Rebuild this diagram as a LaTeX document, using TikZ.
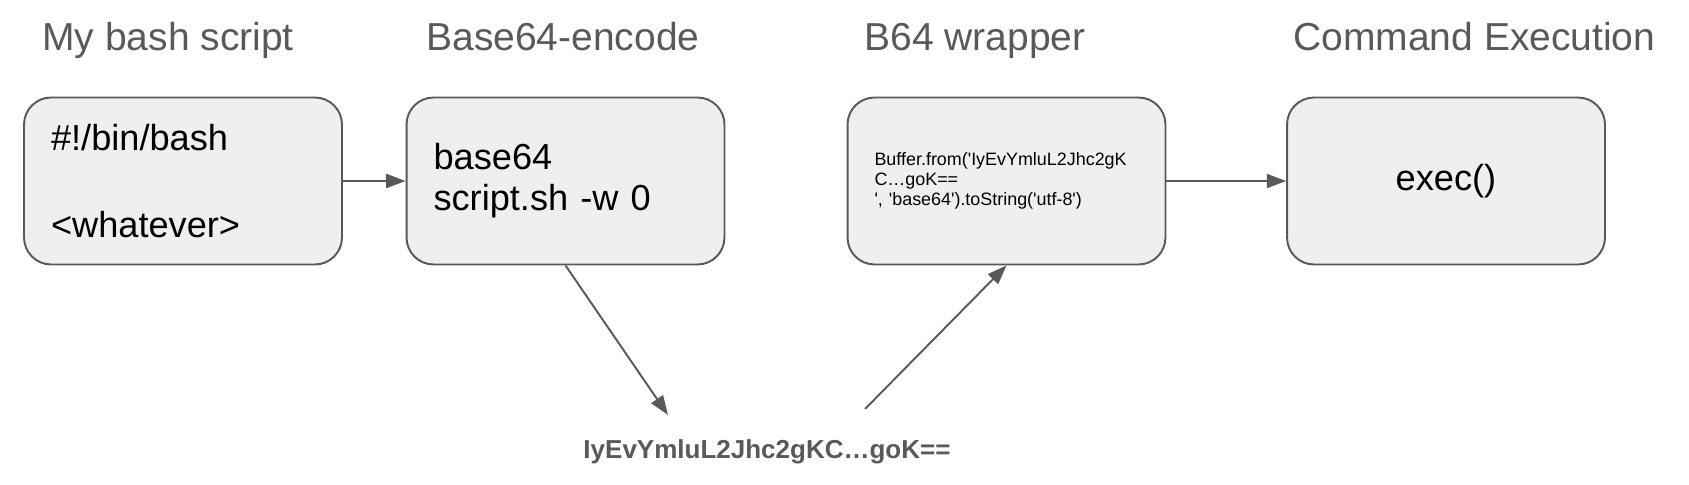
\documentclass[tikz,border=0pt]{standalone}
\usepackage{fontspec}
\setmainfont{Liberation Sans}
\usetikzlibrary{arrows.meta}
\definecolor{linegray}{HTML}{595959}
\definecolor{boxfill}{HTML}{EFEFEF}
\newcommand{\sq}{\textquotesingle}

\begin{document}
\begin{tikzpicture}[x=0.02cm,y=-0.02cm,
  stagebox/.style={draw=linegray,fill=boxfill,line width=1.1pt,rounded corners=0.54cm,
    minimum width=6.36cm,minimum height=3.34cm,inner xsep=0.54cm,text width=5.28cm,
    align=left,font=\fontsize{20.6}{23.2}\selectfont},
  stagetitle/.style={anchor=base west,inner sep=0pt,text=linegray,
    font=\fontsize{22.2}{26}\selectfont},
  flow/.style={draw=linegray,line width=1.1pt,-{Triangle[length=11pt,width=8pt]}}]
\useasboundingbox (0,0) rectangle (1689,484);
% titles
\node[stagetitle] (t-script) at (42,50) {My bash script};
\node[stagetitle] (t-encode) at (426,50) {Base64-encode};
\node[stagetitle] (t-wrap) at (864,50) {B64 wrapper};
\node[stagetitle] (t-exec) at (1293,50) {Command Execution};
% boxes
\node[stagebox,font=\fontsize{20.6}{24.7}\selectfont] (script) at (183,181)
  {\#!/bin/bash\\[24.7pt]<whatever>};
\node[stagebox] (encode) at (565.5,181) {base64\\script.sh -w 0};
\node[stagebox,font=\fontsize{10.2}{11.3}\selectfont] (wrap) at (1006.5,181)
  {Buffer.from(\sq IyEvYmluL2Jhc2gK\\C…goK==\\\sq, \sq base64\sq).toString(\sq utf-8\sq)};
\node[stagebox,align=center] (exec) at (1446,181) {exec()};
% encoded string
\node[text=linegray,font=\fontsize{14.8}{18}\selectfont\bfseries] (b64str) at (767,452)
  {IyEvYmluL2Jhc2gKC…goK==};
\coordinate (b64dn) at (668,415);
\coordinate (b64up) at (865,409);
% arrows
\draw[flow] (script) -- (encode);
\draw[flow] (encode.south) -- (b64dn);
\draw[flow] (b64up) -- (wrap.south);
\draw[flow] (wrap) -- (exec);
\end{tikzpicture}
\end{document}
